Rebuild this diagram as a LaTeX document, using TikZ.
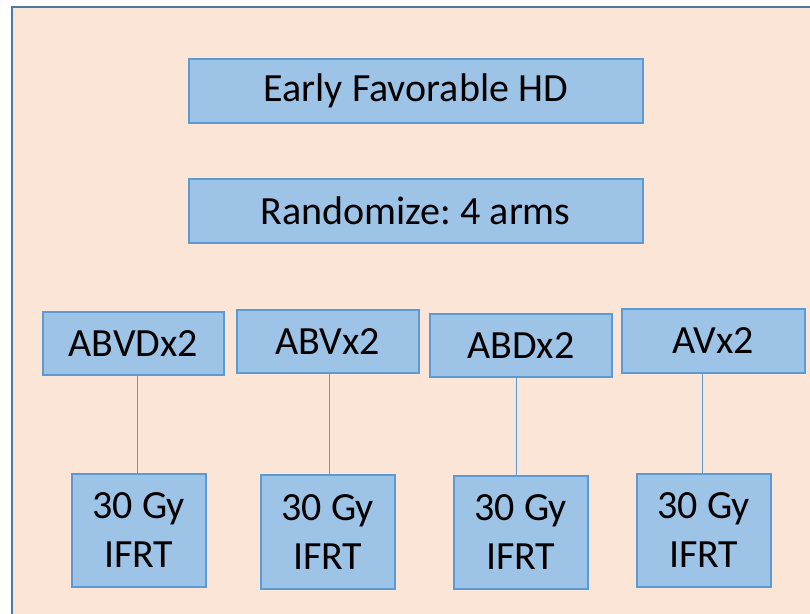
\documentclass[tikz,border=0pt]{standalone}
\usepackage{fontspec}
\setmainfont{Carlito}
\frenchspacing
\definecolor{bgpeach}{HTML}{FBE5D6}
\definecolor{frameblue}{HTML}{4F77A3}
\definecolor{boxfill}{HTML}{9DC3E6}
\definecolor{boxline}{HTML}{5B9BD5}
\begin{document}
\begin{tikzpicture}[x=1pt,y=-1pt,
  box/.style={draw=boxline,fill=boxfill,line width=1.5pt,inner sep=0pt,anchor=north west},
  conn/.style={draw=boxline,line width=1pt},
  txt/.style={font=\fontsize{40}{49}\selectfont,align=center,inner sep=0pt}]
\useasboundingbox (0,0) rectangle (810,613);
\clip (0,0) rectangle (810,613);
\fill[white] (0,0) rectangle (810,613);
\draw[frameblue,fill=bgpeach,line width=2.2pt] (12,7) rectangle (830,640);
% top boxes
\node[box,minimum width=454pt,minimum height=64pt] (early) at (188,58) {};
\node[txt] at (early.center) {Early Favorable HD};
\node[box,minimum width=454pt,minimum height=64pt] (rand) at (188,178) {};
\node[txt] at (rand.center) {Randomize: 4 arms};
% arm boxes
\node[box,minimum width=181pt,minimum height=63pt] (a1) at (42,311) {};
\node[txt] at (a1.center) {ABVDx2};
\node[box,minimum width=182pt,minimum height=63pt] (a2) at (236,309) {};
\node[txt] at (a2.center) {ABVx2};
\node[box,minimum width=182pt,minimum height=63pt] (a3) at (429,313) {};
\node[txt] at (a3.center) {ABDx2};
\node[box,minimum width=183pt,minimum height=64pt] (a4) at (621,308) {};
\node[txt] at (a4.center) {AVx2};
% IFRT boxes
\node[box,minimum width=134pt,minimum height=113pt] (r1) at (71,473) {};
\node[txt] at (r1.center) {30 Gy\hspace{8pt}\\IFRT};
\node[box,minimum width=134pt,minimum height=114pt] (r2) at (260,474) {};
\node[txt] at (r2.center) {30 Gy\hspace{8pt}\\IFRT};
\node[box,minimum width=134pt,minimum height=113pt] (r3) at (453,475) {};
\node[txt] at (r3.center) {30 Gy\hspace{8pt}\\IFRT};
\node[box,minimum width=134pt,minimum height=113pt] (r4) at (636,473) {};
\node[txt] at (r4.center) {30 Gy\hspace{8pt}\\IFRT};
% connectors
\draw[conn] (a1.south -| 137,0) -- (r1.north -| 137,0);
\draw[conn] (a2.south -| 329,0) -- (r2.north -| 329,0);
\draw[conn] (a3.south -| 516,0) -- (r3.north -| 516,0);
\draw[conn] (a4.south -| 702,0) -- (r4.north -| 702,0);
\end{tikzpicture}
\end{document}
